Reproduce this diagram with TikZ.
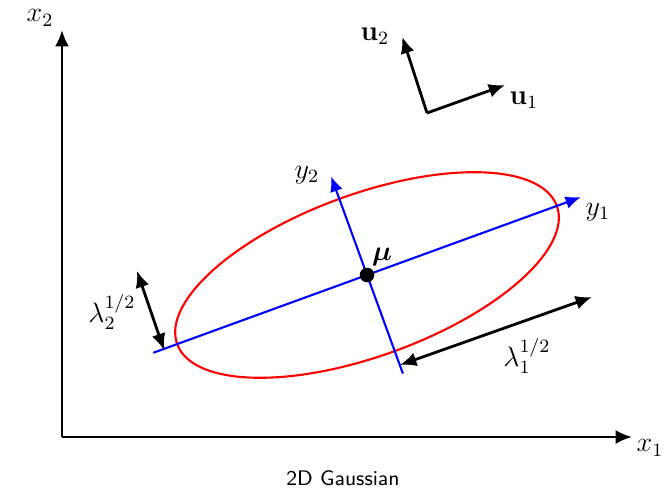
\documentclass[tikz,border=0pt]{standalone}
\usepackage{tikz}
\usetikzlibrary{arrows.meta,positioning,calc}
\usepackage{amsmath,amssymb}

\tikzset{
  axis/.style={line width=1.2pt,-{Latex[length=7pt,width=6pt]}},
  dimarrow/.style={line width=1.2pt,{Latex[length=7pt,width=6pt]}-{Latex[length=7pt,width=6pt]}},
  vecarrow/.style={line width=1.2pt,-{Latex[length=7pt,width=6pt]}},
  eigaxis/.style={blue,line width=0.9pt,-{Latex[length=6.5pt,width=5.5pt]}},
}

\begin{document}
\begin{tikzpicture}[scale=0.75]
  \useasboundingbox (-1.24,-1.1) rectangle (12.2,8.74);

  % axes
  \coordinate (O) at (0,0);
  \coordinate (xend) at (11.4,0);
  \coordinate (yend) at (0,8.14);
  \draw[axis] (O) -- (xend);
  \draw[axis] (O) -- (yend);
  \node (x1lab) at (11.76,-0.22) {\large $x_1$};
  \node (x2lab) at (-0.44,8.38) {\large $x_2$};

  % ellipse and its principal axes
  \coordinate (mu) at (6.1,3.24);
  \draw[red,line width=0.9pt,rotate around={20:(mu)}] (mu) ellipse (4.04 and 1.62);
  \coordinate (a1) at ($(mu)+(200:4.55)$);
  \coordinate (a2) at ($(mu)+(20:4.55)$);
  \coordinate (b1) at ($(mu)+(290:2.1)$);
  \coordinate (b2) at ($(mu)+(110:2.1)$);
  \draw[eigaxis] (a1) -- (a2);
  \draw[eigaxis] (b1) -- (b2);
  \node[circle,fill,inner sep=2.2pt] (mudot) at (mu) {};
  \node (y1lab) at (10.72,4.5) {\large $y_1$};
  \node (y2lab) at (4.9,5.24) {\large $y_2$};
  \node (mulab) at (6.4,3.6) {\large $\boldsymbol{\mu}$};

  % eigenvalue lengths
  \coordinate (l2a) at (1.5,3.32);
  \coordinate (l2b) at (2.04,1.74);
  \draw[dimarrow] (l2a) -- (l2b);
  \node (l2lab) at (1.0,2.5) {\large $\lambda_2^{1/2}$};
  \coordinate (l1a) at (6.76,1.44);
  \coordinate (l1b) at (10.6,2.8);
  \draw[dimarrow] (l1a) -- (l1b);
  \node (l1lab) at (9.3,1.62) {\large $\lambda_1^{1/2}$};

  % eigenvectors
  \coordinate (u0) at (7.3,6.48);
  \coordinate (u1) at ($(u0)+(19.7:1.66)$);
  \coordinate (u2) at ($(u0)+(108:1.6)$);
  \draw[vecarrow] (u0) -- (u1);
  \draw[vecarrow] (u0) -- (u2);
  \node (u1lab) at (9.24,6.74) {\large $\mathbf{u}_1$};
  \node (u2lab) at (6.26,8.02) {\large $\mathbf{u}_2$};

  \node[font=\sffamily\small] (cap) at (5.62,-0.82) {2D Gaussian};
\end{tikzpicture}
\end{document}
